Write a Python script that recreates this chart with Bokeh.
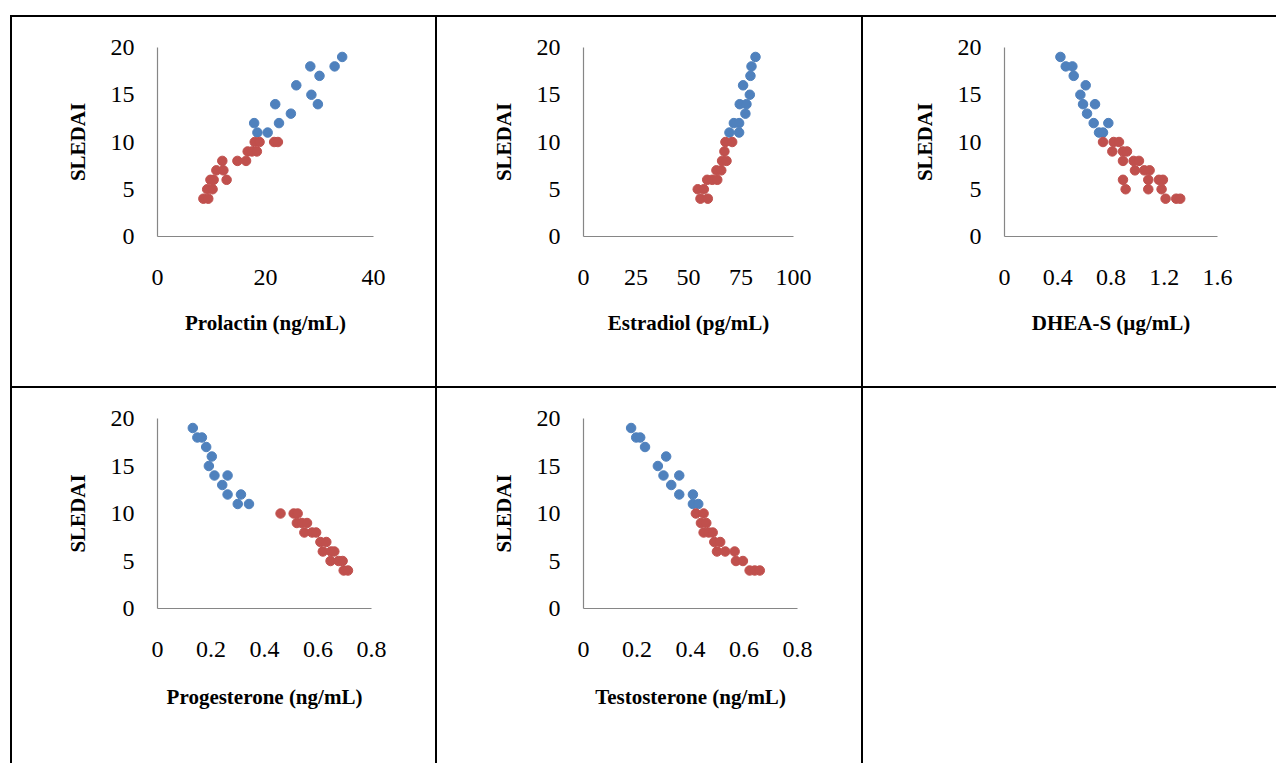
from bokeh.plotting import figure
from bokeh.models import Range1d, FixedTicker, Div, Spacer, NumeralTickFormatter
from bokeh.layouts import row, column
from bokeh.embed import file_html
from bokeh.resources import INLINE

# ---------------- data ----------------
sledai_ticks = [0, 5, 10, 15, 20]
sledai_labels = ["0", "5", "10", "15", "20"]

prl_ticks = [0, 20, 40]
prl_labels = ["0", "20", "40"]
prl_blue_x = [34.2, 32.8, 28.3, 30.0, 25.7, 28.5, 29.7, 21.8, 24.7, 17.9, 22.5, 18.5, 20.4]
prl_blue_y = [19, 18, 18, 17, 16, 15, 14, 14, 13, 12, 12, 11, 11]
prl_red_x = [18.0, 18.9, 21.6, 22.3, 16.7, 17.5, 18.4, 12.0, 14.8, 16.4, 10.9, 12.2,
             9.8, 10.4, 12.8, 9.2, 10.2, 8.5, 9.4]
prl_red_y = [10, 10, 10, 10, 9, 9, 9, 8, 8, 8, 7, 7, 6, 6, 6, 5, 5, 4, 4]

e2_ticks = [0, 25, 50, 75, 100]
e2_labels = ["0", "25", "50", "75", "100"]
e2_blue_x = [81.9, 80.0, 79.5, 76.0, 79.2, 74.4, 77.6, 77.1, 71.6, 74.1, 69.5, 74.1]
e2_blue_y = [19, 18, 17, 16, 15, 14, 14, 13, 12, 12, 11, 11]
e2_red_x = [67.6, 70.8, 67.1, 66.0, 68.1, 63.3, 65.6, 58.9, 61.3, 63.7, 54.4, 57.3, 55.7, 59.2]
e2_red_y = [10, 10, 9, 8, 8, 7, 7, 6, 6, 6, 5, 5, 4, 4]

dhea_ticks = [0, 0.4, 0.8, 1.2, 1.6]
dhea_labels = ["0", "0.4", "0.8", "1.2", "1.6"]
dhea_blue_x = [0.42, 0.46, 0.51, 0.52, 0.61, 0.57, 0.59, 0.68, 0.62, 0.67, 0.78, 0.71, 0.74]
dhea_blue_y = [19, 18, 18, 17, 16, 15, 14, 14, 13, 12, 12, 11, 11]
dhea_red_x = [0.74, 0.82, 0.86, 0.81, 0.89, 0.92, 0.89, 0.97, 1.01, 0.98, 1.05, 1.09,
              0.89, 1.08, 1.16, 1.19, 0.91, 1.08, 1.18, 1.21, 1.29, 1.32]
dhea_red_y = [10, 10, 10, 9, 9, 9, 8, 8, 8, 7, 7, 7, 6, 6, 6, 6, 5, 5, 5, 4, 4, 4]

small_ticks = [0, 0.2, 0.4, 0.6, 0.8]
small_labels = ["0", "0.2", "0.4", "0.6", "0.8"]
prog_blue_x = [0.132, 0.149, 0.166, 0.182, 0.203, 0.192, 0.213, 0.262, 0.242, 0.262, 0.312, 0.300, 0.342]
prog_blue_y = [19, 18, 18, 17, 16, 15, 14, 14, 13, 12, 12, 11, 11]
prog_red_x = [0.460, 0.509, 0.524, 0.521, 0.540, 0.559, 0.549, 0.578, 0.593, 0.609, 0.631,
              0.618, 0.649, 0.661, 0.647, 0.677, 0.692, 0.696, 0.712]
prog_red_y = [10, 10, 10, 9, 9, 9, 8, 8, 8, 7, 7, 6, 6, 6, 5, 5, 5, 4, 4]

testo_blue_x = [0.178, 0.197, 0.212, 0.230, 0.309, 0.278, 0.299, 0.358, 0.328, 0.358, 0.409, 0.409, 0.429]
testo_blue_y = [19, 18, 18, 17, 16, 15, 14, 14, 13, 12, 12, 11, 11]
testo_red_x = [0.420, 0.449, 0.439, 0.459, 0.449, 0.468, 0.483, 0.489, 0.511, 0.499, 0.530,
               0.565, 0.570, 0.596, 0.621, 0.640, 0.659]
testo_red_y = [10, 10, 9, 9, 8, 8, 8, 7, 7, 6, 6, 6, 5, 5, 4, 4, 4]

BLUE = "#4F81BD"
RED = "#C0504D"
FONT = "Liberation Serif"


def style_axis(ax, ticks, labels, title, standoff, title_standoff):
    ax.ticker = FixedTicker(ticks=ticks)
    ax.formatter = NumeralTickFormatter(format="0.[0]")
    ax.major_label_overrides = dict(zip(ticks, labels))
    ax.axis_label = title
    ax.axis_label_text_font = FONT
    ax.axis_label_text_font_size = "21px"
    ax.axis_label_text_font_style = "bold"
    ax.axis_label_text_color = "black"
    ax.major_label_text_font = FONT
    ax.major_label_text_font_size = "24px"
    ax.major_label_text_color = "black"
    ax.major_tick_line_color = None
    ax.minor_tick_line_color = None
    ax.major_tick_out = 0
    ax.major_tick_in = 0
    ax.axis_line_color = "#868686"
    ax.axis_line_width = 1.2
    ax.major_label_standoff = standoff
    ax.axis_label_standoff = title_standoff


def panel(bx, by, rx, ry, xmax, xticks, xlabels, xtitle, w, h, L, R, B, tstand):
    p = figure(width=w, height=h, x_range=Range1d(0, xmax), y_range=Range1d(0, 20),
               output_backend="svg", toolbar_location=None,
               min_border_left=L, min_border_right=R, min_border_top=30, min_border_bottom=B)
    p.grid.visible = False
    p.outline_line_color = None
    p.background_fill_color = "white"
    p.border_fill_color = "white"
    style_axis(p.xaxis[0], xticks, xlabels, xtitle, 33, tstand)
    style_axis(p.yaxis[0], sledai_ticks, sledai_labels, "SLEDAI", 23, 18)
    p.scatter(bx, by, size=9.5, color=BLUE)
    p.scatter(rx, ry, size=9.5, color=RED)
    return p


H1, H2 = 369, 375
W1, W2, W3 = 423, 424, 413

f1 = panel(prl_blue_x, prl_blue_y, prl_red_x, prl_red_y, 40, prl_ticks, prl_labels,
           "Prolactin (ng/mL)", W1, H1, 145, 62, 150, 23)
f2 = panel(e2_blue_x, e2_blue_y, e2_red_x, e2_red_y, 100, e2_ticks, e2_labels,
           "Estradiol (pg/mL)", W2, H1, 146, 68, 150, 23)
f3 = panel(dhea_blue_x, dhea_blue_y, dhea_red_x, dhea_red_y, 1.6, dhea_ticks, dhea_labels,
           "DHEA-S (µg/mL)", W3, H1, 141, 59, 150, 23)
f4 = panel(prog_blue_x, prog_blue_y, prog_red_x, prog_red_y, 0.8, small_ticks, small_labels,
           "Progesterone (ng/mL)", W1, H2, 145, 64, 155, 25)
f5 = panel(testo_blue_x, testo_blue_y, testo_red_x, testo_red_y, 0.8, small_ticks, small_labels,
           "Testosterone (ng/mL)", W2, H2, 146, 64, 155, 25)

TOTAL_W = 10 + 2 + W1 + 2 + W2 + 2 + W3


def hline(w):
    return Div(text="", width=w, height=2, margin=0, styles={"background-color": "black"})


def vline(h):
    return Div(text="", width=2, height=h, margin=0, styles={"background-color": "black"})


layout = column(
    Spacer(width=TOTAL_W, height=15, margin=0),
    row(Spacer(width=10, height=2, margin=0), hline(TOTAL_W - 10), spacing=0),
    row(Spacer(width=10, height=H1, margin=0), vline(H1), f1, vline(H1), f2, vline(H1), f3, spacing=0),
    row(Spacer(width=10, height=2, margin=0), hline(TOTAL_W - 10), spacing=0),
    row(Spacer(width=10, height=H2, margin=0), vline(H2), f4, vline(H2), f5, vline(H2),
        Spacer(width=W3, height=H2, margin=0), spacing=0),
    spacing=0,
)

open("out.html", "w").write(file_html(layout, INLINE))
